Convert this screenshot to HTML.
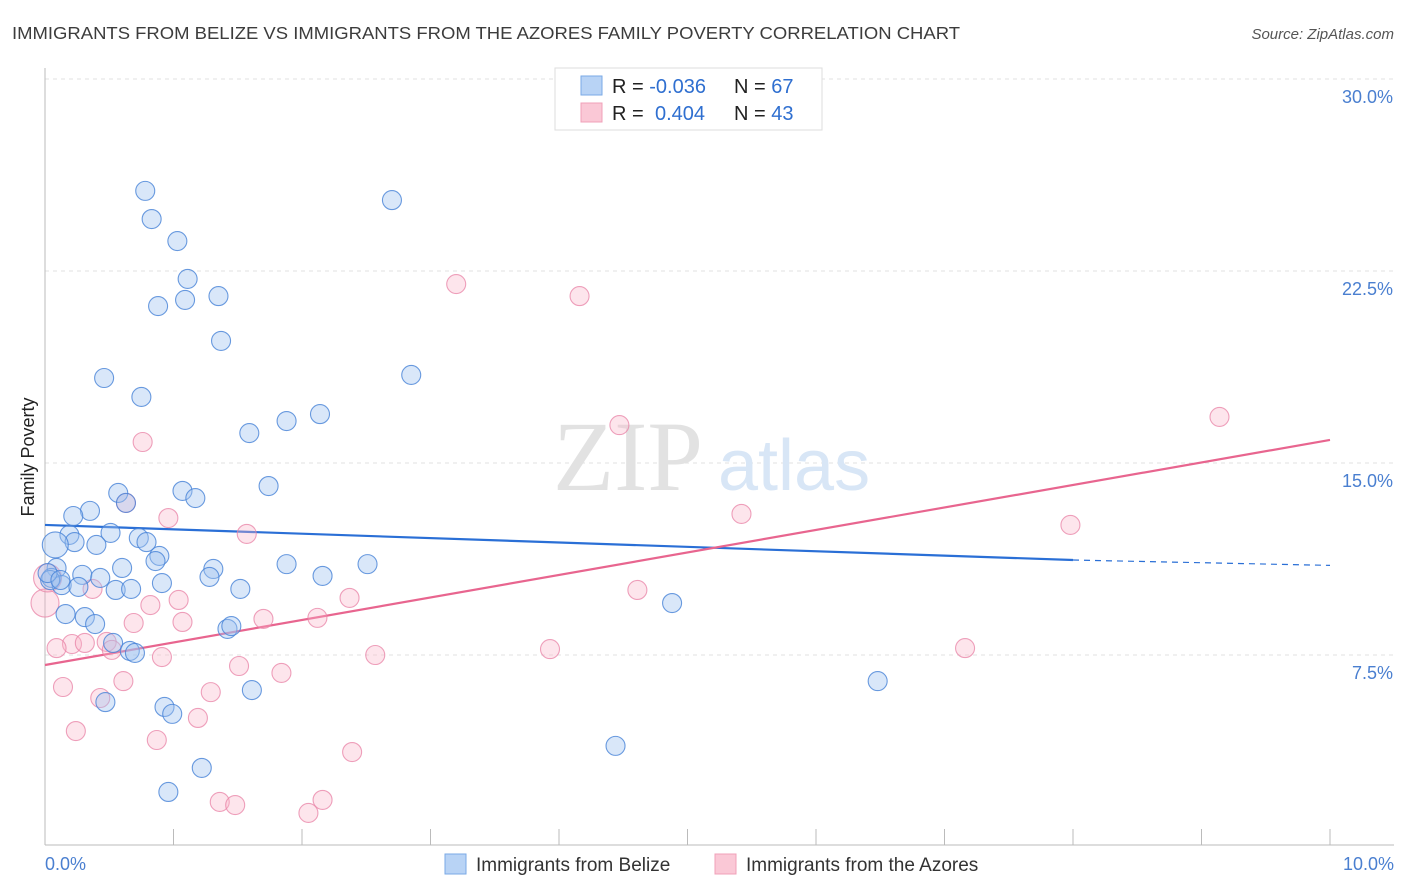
<!DOCTYPE html>
<html><head><meta charset="utf-8"><style>
body{margin:0;background:#fff;font-family:"Liberation Sans",sans-serif;}
svg{display:block}
</style></head><body>
<svg id="chart" width="1406" height="892">
<text x="12" y="39" font-size="17.5" fill="#3c3c3c" textLength="948" lengthAdjust="spacingAndGlyphs">IMMIGRANTS FROM BELIZE VS IMMIGRANTS FROM THE AZORES FAMILY POVERTY CORRELATION CHART</text>
<text x="1394" y="39" font-size="15" fill="#555" font-style="italic" text-anchor="end">Source: ZipAtlas.com</text>
<g id="grid"></g>
<g>
<text x="553" y="490" font-family="Liberation Serif,serif" font-size="100" fill="#e2e2e2">ZIP</text>
<text x="718" y="490" font-size="72" fill="#d8e6f6">atlas</text>
</g>
<line x1="45" y1="68" x2="45" y2="845" stroke="#bbb"/>
<line x1="45" y1="845" x2="1394" y2="845" stroke="#bbb"/>
<g id="xticks"></g>
<g id="ylabels"></g>
<text x="45" y="870" font-size="18" fill="#4a7fd0">0.0%</text>
<text x="1394" y="870" font-size="18" fill="#4a7fd0" text-anchor="end">10.0%</text>
<text transform="translate(34,457) rotate(-90)" font-size="18" fill="#222" text-anchor="middle">Family Poverty</text>
<g id="lines"></g>
<g id="points"></g>
<g>
<rect x="555" y="68" width="267" height="62" fill="#fff" stroke="#ddd"/>
<rect x="581" y="76" width="21" height="19" fill="#b8d3f5" stroke="#7aaae6"/>
<rect x="581" y="103" width="21" height="19" fill="#fac8d6" stroke="#f0a0b8"/>
<text x="612" y="93" font-size="20" fill="#222">R = <tspan fill="#2f6fd0">-0.036</tspan><tspan x="734">N = </tspan><tspan fill="#2f6fd0">67</tspan></text>
<text x="612" y="120" font-size="20" fill="#222">R = <tspan x="655" fill="#2f6fd0">0.404</tspan><tspan x="734">N = </tspan><tspan fill="#2f6fd0">43</tspan></text>
</g>
<g>
<rect x="445" y="854" width="21" height="20" fill="#b8d3f5" stroke="#7aaae6"/>
<text x="476" y="871" font-size="19" fill="#333">Immigrants from Belize</text>
<rect x="715" y="854" width="21" height="20" fill="#fac8d6" stroke="#f0a0b8"/>
<text x="746" y="871" font-size="19" fill="#333">Immigrants from the Azores</text>
</g>
</svg>
<script>
const yTicks=[7.5,15,22.5,30];
const yTickLabels=["7.5%","15.0%","22.5%","30.0%"];
const xTicks=[1,2,3,4,5,6,7,8,9,10];
const belizeX=[0.78,0.83,1.03,1.11,0.88,1.09,1.35,1.37,0.46,0.75,2.70,2.85,1.59,1.88,2.14,1.74,1.07,1.17,0.57,0.63,0.35,0.22,0.51,0.19,0.23,0.40,0.08,0.73,0.79,0.89,0.86,1.31,1.28,0.60,0.29,0.09,0.05,0.13,0.26,0.43,0.55,0.67,0.91,1.52,1.88,2.16,2.51,0.16,0.31,0.39,0.53,0.66,0.70,1.42,1.45,1.61,0.47,0.93,0.99,1.22,0.96,4.44,4.88,6.48,0.04,0.02,0.12];
const belizeY=[25.63,24.53,23.67,22.19,21.13,21.37,21.52,19.77,18.32,17.58,25.27,18.44,16.17,16.64,16.91,14.10,13.91,13.63,13.83,13.44,13.13,12.93,12.27,12.19,11.91,11.80,11.80,12.07,11.91,11.37,11.17,10.86,10.55,10.90,10.63,10.90,10.51,10.23,10.16,10.51,10.04,10.08,10.31,10.08,11.05,10.59,11.05,9.10,8.98,8.71,7.97,7.66,7.58,8.52,8.63,6.13,5.66,5.47,5.20,3.09,2.15,3.95,9.53,6.48,10.43,10.70,10.43];
const azoresX=[0.76,0.63,0.96,1.57,3.20,4.16,4.47,9.14,7.98,5.42,4.61,2.37,0.82,1.04,0.37,1.70,2.12,1.07,0.69,0.21,0.31,0.09,0.48,0.52,0.91,2.57,3.93,7.16,1.51,1.84,0.14,0.61,0.43,1.29,0.24,0.87,1.19,2.39,1.36,1.48,2.05,2.16,0.00,0.02];
const azoresY=[15.82,13.44,12.85,12.23,21.99,21.52,16.48,16.80,12.58,13.01,10.04,9.73,9.45,9.65,10.08,8.91,8.95,8.79,8.75,7.93,7.97,7.77,8.01,7.70,7.42,7.50,7.73,7.77,7.07,6.80,6.25,6.48,5.82,6.05,4.53,4.18,5.04,3.71,1.76,1.64,1.33,1.84,9.53,10.51];
const belizeTrend=[12.58,11.21,11.0]; // at x=0, 8, 10
const azoresTrend=[7.11,15.90]; // at x=0, 10
const NS="http://www.w3.org/2000/svg";
const sx=v=>45+v*128.5, sy=v=>847-v*25.6;
function mk(tag,attrs,parent){const e=document.createElementNS(NS,tag);for(const k in attrs)e.setAttribute(k,attrs[k]);document.getElementById(parent).appendChild(e);return e;}
yTicks.forEach((t,i)=>{
  const l=mk('line',{x1:45,x2:1394,y1:sy(t),y2:sy(t),stroke:'#e2e2e2','stroke-dasharray':'4,4'},'grid');
  
  
  const tx=mk('text',{x:1393,y:sy(t)+24,'font-size':18,fill:'#4a7fd0','text-anchor':'end'},'ylabels');
  tx.textContent=yTickLabels[i];
  
  
});
xTicks.forEach(t=>{
  const l=mk('line',{x1:sx(t),x2:sx(t),y1:829,y2:845,stroke:'#bbb'},'xticks');
  
  
});
let a=mk('line',{x1:sx(0),y1:sy(belizeTrend[0]),x2:sx(8),y2:sy(belizeTrend[1]),stroke:'#2a6fd6','stroke-width':2.2},'lines');


a=mk('line',{x1:sx(8),y1:sy(belizeTrend[1]),x2:sx(10),y2:sy(belizeTrend[2]),stroke:'#2a6fd6','stroke-width':1.2,'stroke-dasharray':'6,5'},'lines');


a=mk('line',{x1:sx(0),y1:sy(azoresTrend[0]),x2:sx(10),y2:sy(azoresTrend[1]),stroke:'#e8658f','stroke-width':2.2},'lines');


azoresX.forEach((x,i)=>{
  const big=i>=42;
  const c=mk('circle',{cx:sx(x),cy:sy(azoresY[i]),r:big?14:9.5,fill:'rgba(248,180,200,0.35)',stroke:'rgba(232,130,165,0.75)','stroke-width':1.1},'points');
  
  
});
belizeX.forEach((x,i)=>{
  const big=(i===26);
  const c=mk('circle',{cx:sx(x),cy:sy(belizeY[i]),r:big?13:9.5,fill:'rgba(160,196,240,0.4)',stroke:'rgba(70,130,215,0.8)','stroke-width':1.1},'points');
  
  
});
</script>
</body></html>
